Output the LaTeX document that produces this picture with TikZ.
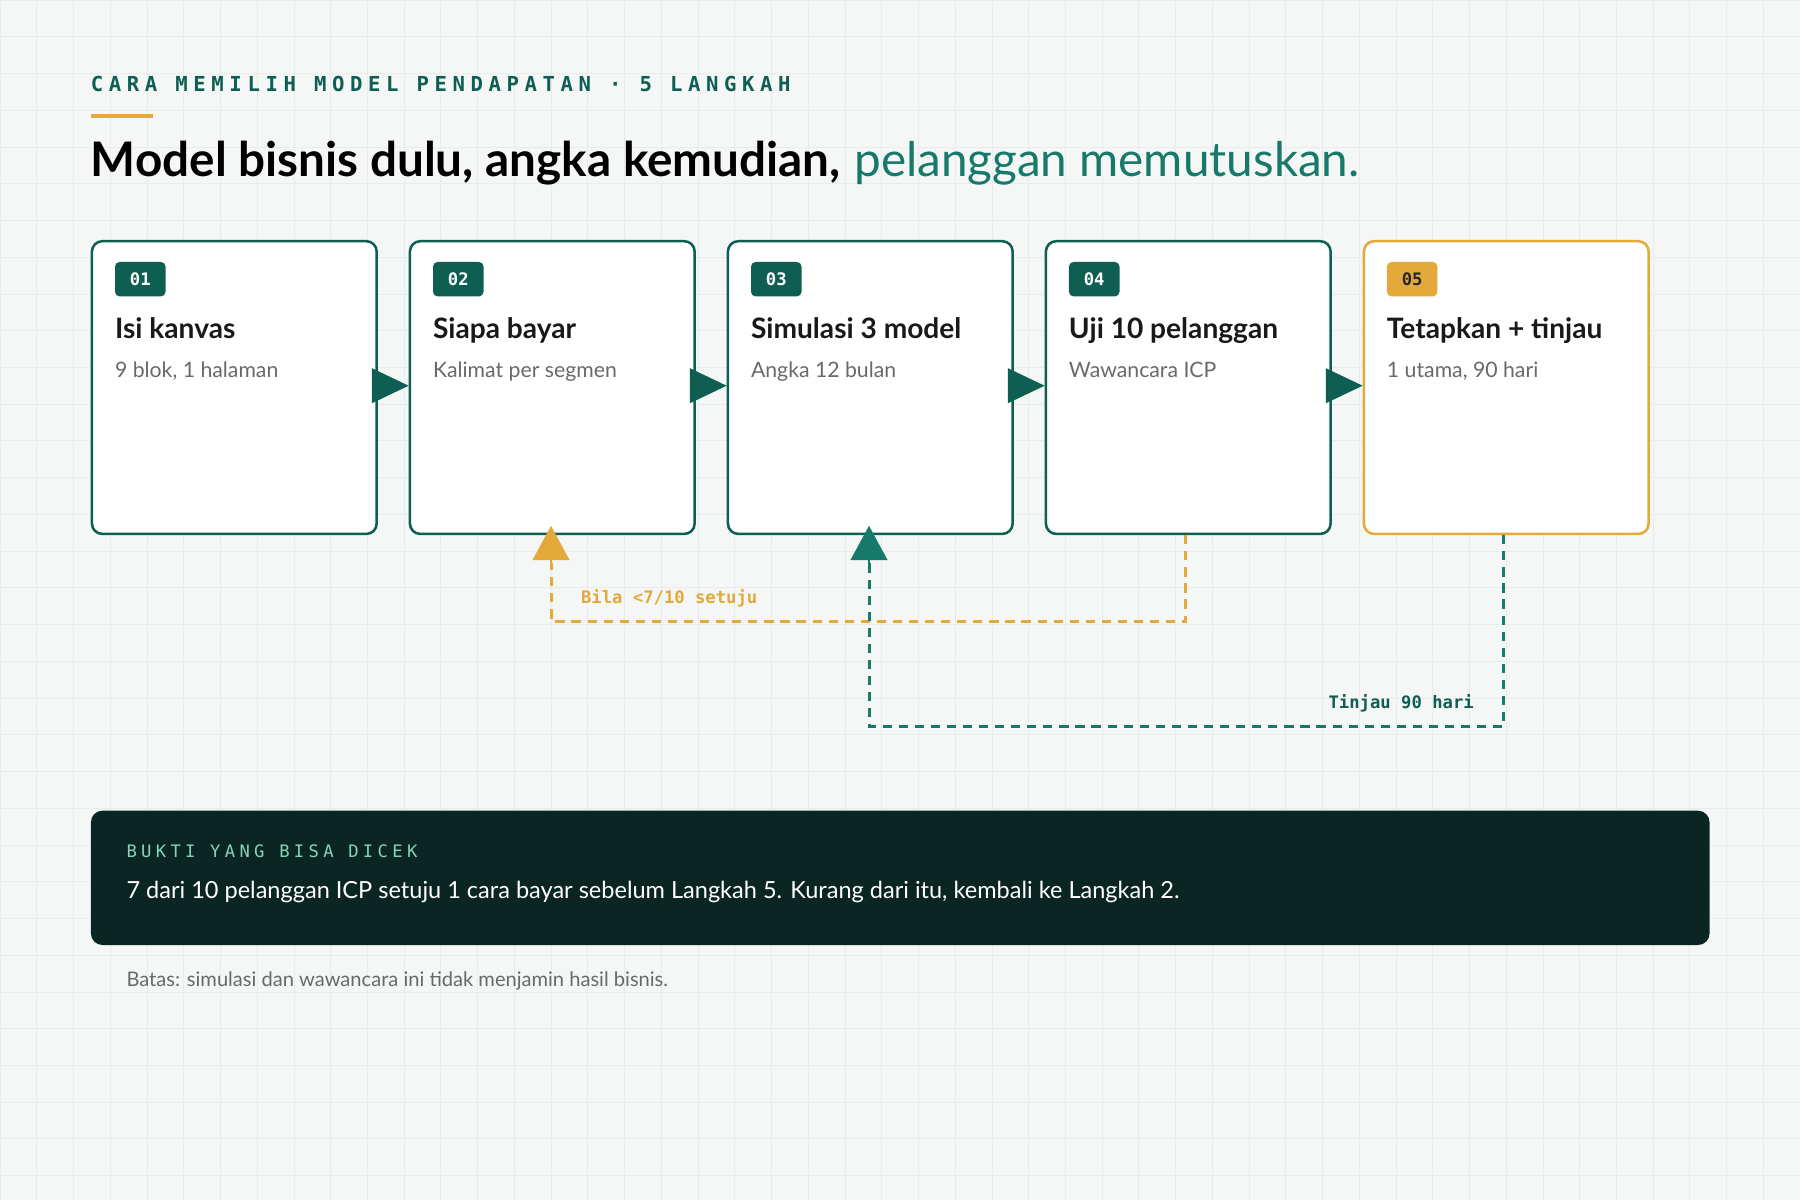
\documentclass[tikz,border=0pt]{standalone}
\usepackage{fontspec}
\setmainfont{Lato}
\newfontfamily\monof{DejaVu Sans Mono}
\newfontfamily\monosp{DejaVu Sans Mono}[LetterSpace=27]
\newfontfamily\monosb{DejaVu Sans Mono}[LetterSpace=25]
\usetikzlibrary{arrows.meta}
\definecolor{teal}{HTML}{0F5E52}
\definecolor{tealb}{HTML}{17796A}
\definecolor{gold}{HTML}{E3A93B}
\definecolor{bg}{HTML}{F5F7F6}
\definecolor{gridc}{HTML}{E8ECEA}
\definecolor{dark}{HTML}{0B2622}
\definecolor{mint}{HTML}{86D3B5}
\definecolor{greyt}{HTML}{666A69}
\begin{document}
\begin{tikzpicture}[x=1pt,y=-1pt,
 box/.style={draw=teal,line width=2.2pt,fill=white,rounded corners=9pt,minimum width=248pt,minimum height=255pt,anchor=north west},
 badge/.style={fill=teal,text=white,rounded corners=4pt,minimum width=44pt,minimum height=30pt,font=\monof\fontsize{15}{15}\selectfont\bfseries,anchor=north west,inner sep=0pt},
 ttl/.style={anchor=base west,font=\fontsize{24.5}{24}\selectfont\bfseries,text=black!90,inner sep=0pt},
 sub/.style={anchor=base west,font=\fontsize{18.5}{18}\selectfont,text=greyt,inner sep=0pt},
 tri/.style={-{Triangle[length=32pt,width=30pt]},line width=2pt,teal},
 dashln/.style={line width=2.6pt,dash pattern=on 8pt off 6pt}]
\useasboundingbox (0,0) rectangle (1568,1045);
\fill[bg] (0,0) rectangle (1568,1045);
\foreach \i in {0,32,...,1568} \draw[gridc,line width=0.6pt] (\i,0) -- (\i,1045);
\foreach \j in {0,32,...,1045} \draw[gridc,line width=0.6pt] (0,\j) -- (1568,\j);
\node[anchor=base west,inner sep=0pt,text=teal,font=\monosp\fontsize{18}{18}\selectfont\bfseries] (hd) at (79,80) {CARA MEMILIH MODEL PENDAPATAN · 5 LANGKAH};
\draw[gold,line width=3pt] (79,101) -- (133,101);
\node[anchor=base west,inner sep=0pt,font=\fontsize{41.5}{40}\selectfont\bfseries] (t1) at (79,154) {Model bisnis dulu, angka kemudian,};
\node[anchor=base west,inner sep=0pt,text=tealb,font=\fontsize{41.5}{40}\selectfont] (t2) at (744,154) {pelanggan memutuskan.};
% boxes
\foreach \n/\x/\num/\t/\s in {1/79/01/Isi kanvas/{9 blok, 1 halaman},2/356/02/Siapa bayar/Kalimat per segmen,3/633/03/Simulasi 3 model/Angka 12 bulan,4/910/04/Uji 10 pelanggan/Wawancara ICP}{
 \node[box] (b\n) at (\x,209) {};
 \node[badge] (g\n) at (\x+21,228) {\num};
 \node[ttl] (tt\n) at (\x+21,295) {\t};
 \node[sub] (s\n) at (\x+21,329) {\s};
}
\node[box,draw=gold] (b5) at (1187,209) {};
\node[badge,fill=gold,text=black!85] (g5) at (1208,228) {05};
\node[ttl] (tt5) at (1208,295) {Tetapkan + tinjau};
\node[sub] (s5) at (1208,329) {1 utama, 90 hari};
\foreach \a/\b in {1/2,2/3,3/4,4/5} \draw[tri] (b\a.east|-0,336) -- (b\b.west|-0,336);
% loops
\coordinate (o1) at (1033,541); \coordinate (o2) at (480,541);
\draw[dashln,gold] (b4.south-|o1) -- (o1) -- (o2) -- (480,490);
\draw[gold,-{Triangle[length=30pt,width=32pt]},line width=2pt] (480,492) -- (480,458);
\node[anchor=base west,inner sep=0pt,text=gold,font=\monof\fontsize{15}{15}\selectfont\bfseries] (l1) at (506,526) {Bila <7/10 setuju};
\coordinate (p1) at (1310,633); \coordinate (p2) at (757,633);
\draw[dashln,tealb] (b5.south-|p1) -- (p1) -- (p2) -- (757,490);
\draw[tealb,-{Triangle[length=30pt,width=32pt]},line width=2pt] (757,492) -- (757,458);
\node[anchor=base east,inner sep=0pt,text=teal,font=\monof\fontsize{15}{15}\selectfont\bfseries] (l2) at (1284,617) {Tinjau 90 hari};
% bottom
\node[fill=dark,rounded corners=10pt,minimum width=1410pt,minimum height=117pt,anchor=north west] (pn) at (79,706) {};
\node[anchor=base west,inner sep=0pt,text=mint,font=\monosb\fontsize{15}{15}\selectfont] (pl) at (110,747) {BUKTI YANG BISA DICEK};
\node[anchor=base west,inner sep=0pt,text=white,font=\fontsize{20.5}{20}\selectfont] (pt) at (110,783) {7 dari 10 pelanggan ICP setuju 1 cara bayar sebelum Langkah 5. Kurang dari itu, kembali ke Langkah 2.};
\node[anchor=base west,inner sep=0pt,text=greyt,font=\fontsize{17.5}{17}\selectfont] (ft) at (110,859) {Batas: simulasi dan wawancara ini tidak menjamin hasil bisnis.};
\end{tikzpicture}
\end{document}
